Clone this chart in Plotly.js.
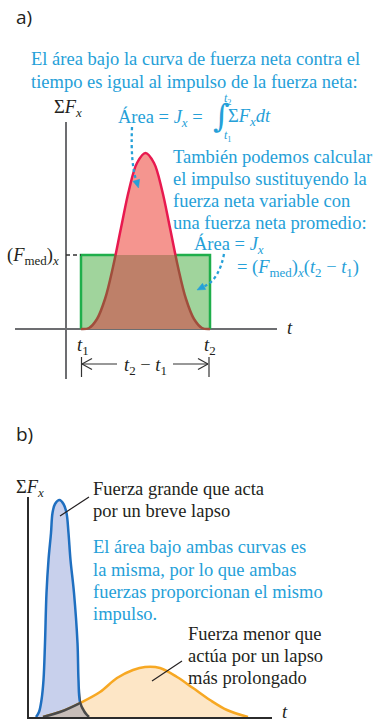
<!DOCTYPE html>
<html>
<head>
<meta charset="utf-8">
<script src="https://cdn.plot.ly/plotly-3.0.1.min.js"></script>
<style>html,body{margin:0;padding:0;background:#fff;}#chart{width:388px;height:723px;}</style>
</head>
<body>
<div id="chart"></div>
<script>
// ---------- data ----------
// Panel a: net force vs time (time units: px from the F axis, force units: px above the t axis)
const t1 = 15;
const t2 = 144;
const Fmed = 74;
const rectT = [t1, t1, t2, t2];
const rectF = [0, Fmed, Fmed, 0];
const redT = [15, 23, 31, 39, 47, 55, 63, 71, 79.5, 88, 96, 104, 112, 120, 128, 136, 144];
const redF = [0, 1, 10, 30, 62, 101, 139, 166, 176, 166, 139, 101, 62, 30, 10, 1, 0];

// Panel b: large short force vs smaller longer force
const blueT = [7, 10, 12.5, 14.5, 16, 17.5, 19.5, 22, 23.5, 26, 30.5, 34.5, 37.5, 39.5, 41.5, 45, 48.5, 49.5, 51, 55, 58, 60];
const blueF = [0, 5, 17, 37, 74, 124, 157, 184, 204, 213, 217, 213, 204, 184, 157, 124, 74, 37, 15, 6, 2, 0];
const orangeT = [14, 31, 51, 71, 88, 104, 116, 131, 148, 164, 181, 198, 219];
const orangeF = [0, 5, 14, 25, 39, 47, 50, 49, 40, 29, 17, 7, 0];

// ---------- styling ----------
const W = 388, H = 723;
const X = px => px / W;
const Y = py => 1 - py / H;
const SERIF = 'Liberation Serif, Times New Roman, serif';
const DARK = '#231f20';
const BLUE = '#25a0d8';
const FS = 18.5;

const traces = [
  {x: rectT, y: rectF, xaxis: 'x', yaxis: 'y', mode: 'lines', fill: 'toself',
   fillcolor: '#a0d49c', line: {color: '#1fae4b', width: 2.5}, hoverinfo: 'skip'},
  {x: redT, y: redF, xaxis: 'x', yaxis: 'y3', mode: 'lines', fill: 'tozeroy',
   fillcolor: '#f5958f', line: {color: '#e8194f', width: 2.5, shape: 'spline'}, hoverinfo: 'skip'},
  {x: redT, y: redF, xaxis: 'x', yaxis: 'y4', mode: 'lines', fill: 'tozeroy',
   fillcolor: '#be8069', line: {color: '#a04e3c', width: 2.5, shape: 'spline'}, hoverinfo: 'skip'},
  {x: blueT, y: blueF, xaxis: 'x2', yaxis: 'y2', mode: 'lines', fill: 'tozeroy',
   fillcolor: '#c8d0ec', line: {color: '#1f6fc0', width: 2.5, shape: 'spline'}, hoverinfo: 'skip'},
  {x: orangeT, y: orangeF, xaxis: 'x2', yaxis: 'y2', mode: 'lines', fill: 'tozeroy',
   fillcolor: '#fde6c6', line: {color: '#f7a823', width: 2.5, shape: 'spline'}, hoverinfo: 'skip'},
  {x: orangeT, y: orangeF, xaxis: 'x3', yaxis: 'y2', mode: 'lines', fill: 'tozeroy',
   fillcolor: '#c7bdb8', line: {color: '#4a4a4a', width: 2.5, shape: 'spline'}, hoverinfo: 'skip'},
  {x: blueT, y: blueF, xaxis: 'x4', yaxis: 'y2', mode: 'lines', fill: 'tozeroy',
   fillcolor: '#c7bdb8', line: {color: '#4a4a4a', width: 2.5, shape: 'spline'}, hoverinfo: 'skip'}
];

const hidden = {showgrid: false, zeroline: false, showticklabels: false, ticks: '', showline: false, fixedrange: true};

function txt(px, py, text, opt) {
  opt = opt || {};
  return Object.assign({
    xref: 'paper', yref: 'paper', x: X(px), y: Y(py), text: text, showarrow: false,
    xanchor: 'left', yanchor: 'middle',
    font: {family: opt.family || SERIF, size: opt.size || FS, color: opt.color || DARK}
  }, opt.extra || {});
}

const ix = '<i>x</i>';
const SANS = 'Open Sans, Liberation Sans, sans-serif';
const annotations = [
  txt(14, 17, 'a)', {size: 19, family: SANS}),
  txt(14, 434, 'b)', {size: 19, family: SANS}),

  txt(29, 59, 'El área bajo la curva de fuerza neta contra el', {color: BLUE}),
  txt(29, 82, 'tiempo es igual al impulso de la fuerza neta:', {color: BLUE}),

  txt(52, 108, 'Σ<i>F</i><sub>' + ix + '</sub>'),
  txt(116, 118, 'Área = <i>J</i><sub>' + ix + '</sub> =', {color: BLUE}),
  txt(221, 116, '∫', {color: BLUE, size: 32, family: 'DejaVu Serif, serif', extra: {xanchor: 'center'}}),
  txt(228, 99, '<i>t</i><sub>2</sub>', {color: BLUE, size: 12, extra: {xanchor: 'center'}}),
  txt(228, 136, '<i>t</i><sub>1</sub>', {color: BLUE, size: 12, extra: {xanchor: 'center'}}),
  txt(226, 118, 'Σ<i>F</i><sub>' + ix + '</sub><i>dt</i>', {color: BLUE}),

  txt(171, 157, 'También podemos calcular', {color: BLUE}),
  txt(171, 179, 'el impulso sustituyendo la', {color: BLUE}),
  txt(171, 201, 'fuerza neta variable con', {color: BLUE}),
  txt(171, 223, 'una fuerza neta promedio:', {color: BLUE}),
  txt(192, 245, 'Área = <i>J</i><sub>' + ix + '</sub>', {color: BLUE}),
  txt(235, 268, '= (<i>F</i><sub>med</sub>)<sub>' + ix + '</sub>(<i>t</i><sub>2</sub> − <i>t</i><sub>1</sub>)', {color: BLUE}),

  txt(5, 256, '(<i>F</i><sub>med</sub>)<sub>' + ix + '</sub>'),
  txt(290, 328, '<i>t</i>', {extra: {xanchor: 'center'}}),
  txt(83, 346, '<i>t</i><sub>1</sub>', {extra: {xanchor: 'center'}}),
  txt(210, 346, '<i>t</i><sub>2</sub>', {extra: {xanchor: 'center'}}),
  txt(145, 366, '<i>t</i><sub>2</sub> − <i>t</i><sub>1</sub>', {extra: {xanchor: 'center'}}),

  txt(14, 488, 'Σ<i>F</i><sub>' + ix + '</sub>'),
  txt(91, 489, 'Fuerza grande que acta'),
  txt(91, 511, 'por un breve lapso'),
  txt(91, 547, 'El área bajo ambas curvas es', {color: BLUE}),
  txt(91, 570, 'la misma, por lo que ambas', {color: BLUE}),
  txt(91, 592, 'fuerzas proporcionan el mismo', {color: BLUE}),
  txt(91, 614, 'impulso.', {color: BLUE}),
  txt(186, 634, 'Fuerza menor que'),
  txt(186, 656, 'actúa por un lapso'),
  txt(186, 678, 'más prolongado'),
  txt(285, 712, '<i>t</i>', {extra: {xanchor: 'center'}})
];

function seg(x0, y0, x1, y1, color, width, dash) {
  return {type: 'line', xref: 'paper', yref: 'paper', x0: X(x0), y0: Y(y0), x1: X(x1), y1: Y(y1),
          line: {color: color, width: width, dash: dash || 'solid'}};
}
const P = (px, py) => X(px).toFixed(5) + ',' + Y(py).toFixed(5);

const shapes = [
  // dashed level of the average force (data coordinates)
  {type: 'line', xref: 'x', yref: 'y', x0: 0, x1: t1, y0: Fmed, y1: Fmed,
   line: {color: '#333', width: 1.3, dash: '4px,3px'}},
  // dimension t2 - t1
  seg(81.5, 357, 81.5, 377, '#333', 1.2),
  seg(209, 357, 209, 377, '#333', 1.2),
  seg(82, 364, 117, 364, '#333', 1.2),
  seg(173, 364, 208, 364, '#333', 1.2),
  seg(82, 364, 92, 358.5, '#333', 1.2),
  seg(82, 364, 92, 369.5, '#333', 1.2),
  seg(208, 364, 198, 358.5, '#333', 1.2),
  seg(208, 364, 198, 369.5, '#333', 1.2),
  // leader lines, panel b
  seg(60, 516, 89, 497, DARK, 1.2),
  seg(152, 681, 182, 661, DARK, 1.2),
  // dotted arrows, panel a
  {type: 'path', xref: 'paper', yref: 'paper',
   path: 'M ' + P(132, 127) + ' Q ' + P(130.5, 163) + ' ' + P(136.2, 180.3),
   line: {color: BLUE, width: 2.3, dash: 'dot'}},
  {type: 'path', xref: 'paper', yref: 'paper',
   path: 'M ' + P(139.6, 179.3) + ' L ' + P(138.5, 188) + ' L ' + P(132.9, 181.3) + ' Z',
   fillcolor: BLUE, line: {color: BLUE, width: 0.5}},
  {type: 'path', xref: 'paper', yref: 'paper',
   path: 'M ' + P(224, 254) + ' Q ' + P(219, 280) + ' ' + P(204.1, 286.4),
   line: {color: BLUE, width: 2.3, dash: 'dot'}},
  {type: 'path', xref: 'paper', yref: 'paper',
   path: 'M ' + P(205.7, 289.5) + ' L ' + P(197, 290) + ' L ' + P(202.5, 283.3) + ' Z',
   fillcolor: BLUE, line: {color: BLUE, width: 0.5}}
];

const layout = {
  width: W, height: H, autosize: false,
  margin: {l: 0, r: 0, t: 0, b: 0, pad: 0},
  paper_bgcolor: '#fff', plot_bgcolor: 'rgba(0,0,0,0)',
  showlegend: false,
  font: {family: SERIF, color: DARK},
  // panel a
  xaxis: Object.assign({}, hidden, {domain: [X(15), X(277)], range: [-51, 211], anchor: 'y',
    zeroline: true, zerolinecolor: '#6d6e71', zerolinewidth: 1.5}),
  yaxis: Object.assign({}, hidden, {domain: [Y(379), Y(122)], range: [-50, 207], anchor: 'x',
    zeroline: true, zerolinecolor: '#6d6e71', zerolinewidth: 1.5}),
  yaxis3: Object.assign({}, hidden, {domain: [Y(255), Y(122)], range: [Fmed, 207], anchor: 'x'}),
  yaxis4: Object.assign({}, hidden, {domain: [Y(379), Y(255)], range: [-50, Fmed], anchor: 'x'}),
  // panel b
  xaxis2: Object.assign({}, hidden, {domain: [X(29), X(272)], range: [0, 243], anchor: 'y2',
    showline: true, linecolor: '#2b2b2b', linewidth: 1.6}),
  yaxis2: Object.assign({}, hidden, {domain: [Y(717), Y(497)], range: [0, 220], anchor: 'x2',
    showline: true, linecolor: '#2b2b2b', linewidth: 1.6}),
  xaxis3: Object.assign({}, hidden, {domain: [X(29), X(80)], range: [0, 51], anchor: 'y2'}),
  xaxis4: Object.assign({}, hidden, {domain: [X(80), X(272)], range: [51, 243], anchor: 'y2'}),
  annotations: annotations,
  shapes: shapes
};

Plotly.newPlot('chart', traces, layout, {staticPlot: true, displayModeBar: false});
</script>
</body>
</html>
